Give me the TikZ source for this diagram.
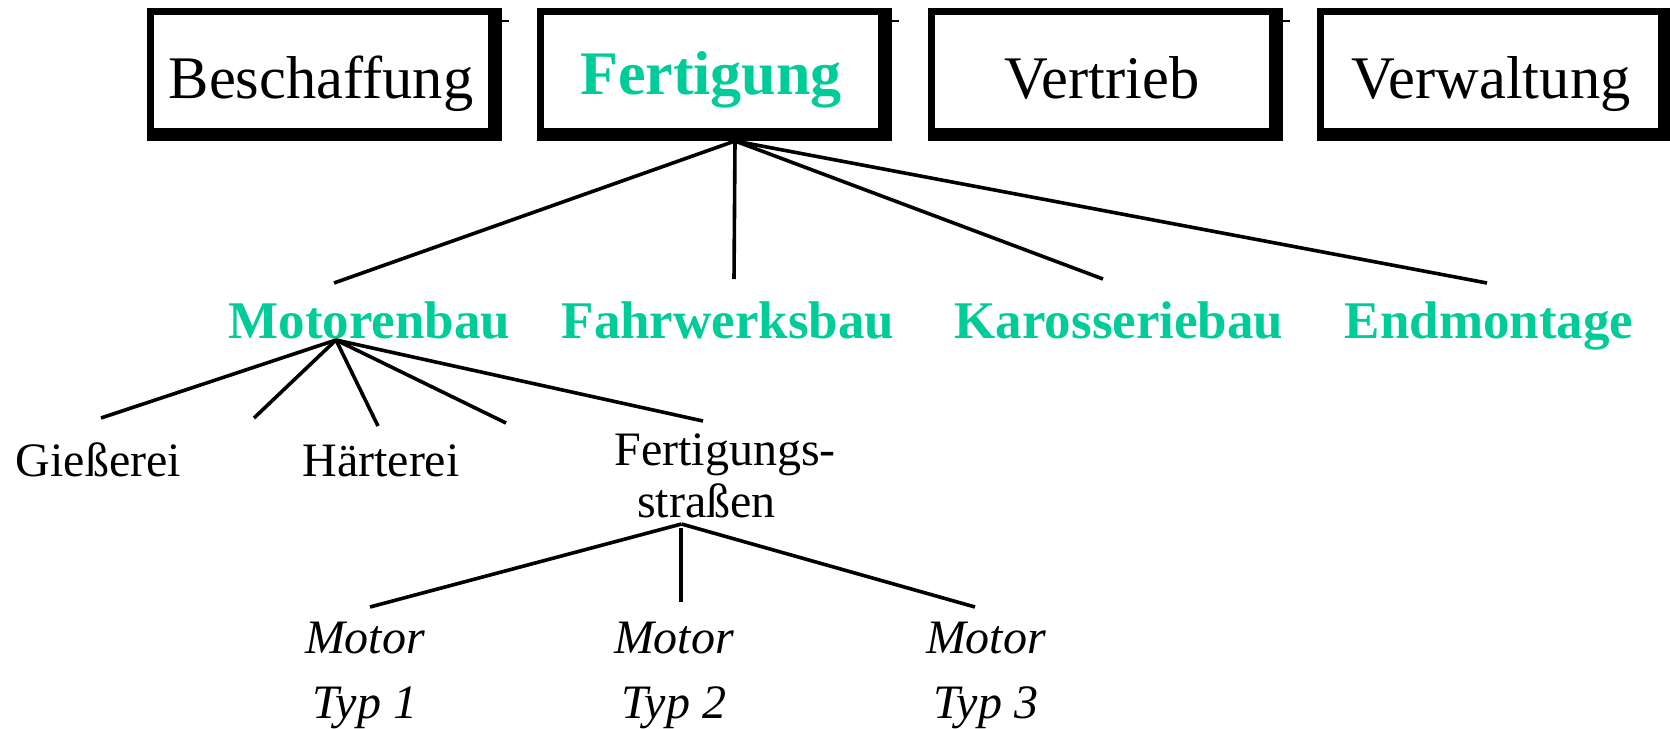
\documentclass[tikz,border=0pt]{standalone}
\usepackage{fontspec}
\setmainfont{Liberation Serif}
\usetikzlibrary{backgrounds}
\definecolor{grn}{HTML}{00CC99}
\begin{document}
\begin{tikzpicture}[x=1pt,y=-1pt,
  topbox/.style={fill=white, inner sep=0pt, minimum width=334pt, text height=83pt, text depth=30pt, anchor=base, font=\fontsize{60.5}{72}\selectfont},
  midlabel/.style={inner sep=0pt, anchor=base, text=grn, font=\fontsize{53}{60}\selectfont\bfseries},
  lowlabel/.style={inner sep=0pt, anchor=base, align=center, font=\fontsize{48}{52}\selectfont},
  typlabel/.style={inner sep=0pt, anchor=base, align=center, font=\fontsize{48}{65}\selectfont\itshape},
  conn/.style={line width=3.6pt},
  tickmark/.style={line width=1.5pt}]
\useasboundingbox (0,0) rectangle (1670,728);

% top row
\node[topbox] (b1) at (321,98) {Beschaffung};
\node[topbox, text=grn, text height=79pt, text depth=34pt, font=\fontsize{62}{72}\selectfont\bfseries] (b2) at (711,94) {Fertigung\hspace{16pt}};
\node[topbox] (b3) at (1102,98) {Vertrieb};
\node[topbox] (b4) at (1491,98) {Verwaltung};

\begin{scope}[on background layer]
  \fill[white] (0,0) rectangle (1670,728);
  \foreach \b in {b1,b2,b3,b4}
    \fill ([shift={(-7,-7)}]\b.north west) rectangle ([shift={(14,13)}]\b.south east);
\end{scope}
\foreach \b in {b1,b2,b3}
  \draw[tickmark] ([shift={(14,6)}]\b.north east) -- ([shift={(21,6)}]\b.north east);

% second level
\node[midlabel] (m1) at (369.5,338) {Motorenbau};
\node[midlabel] (m2) at (728,338) {Fahrwerksbau};
\node[midlabel] (m3) at (1119,338) {Karosseriebau};
\node[midlabel] (m4) at (1489,338) {Endmontage};

\coordinate (fJ) at (735,141);
\coordinate (e1) at (334,283);
\coordinate (e2) at (734,279);
\coordinate (e3) at (1103,279);
\coordinate (e4) at (1487,283);
\foreach \e in {e1,e2,e3,e4}
  \draw[conn] (fJ) -- (\e);

% third level
\node[lowlabel] (g) at (98.5,476) {Gießerei};
\node[lowlabel] (h) at (381,476) {Härterei};
\node[lowlabel] (fs) at (725,517) {Fertigungs-\\straßen\rule{37pt}{0pt}};

\coordinate (mJ) at (336,340);
\coordinate (k1) at (101,418);
\coordinate (k2) at (254,418);
\coordinate (k3) at (378,426);
\coordinate (k4) at (506,423);
\coordinate (k5) at (703,421);
\foreach \k in {k1,k2,k3,k4,k5}
  \draw[conn] (mJ) -- (\k);

% fourth level
\node[typlabel] (t1) at (365,718) {Motor\\Typ 1};
\node[typlabel] (t2) at (674,718) {Motor\\Typ 2};
\node[typlabel] (t3) at (986,718) {Motor\\Typ 3};

\coordinate (sJ) at (681.5,524);
\coordinate (s1) at (370,607);
\coordinate (s2a) at (681,528);
\coordinate (s2) at (681,602);
\coordinate (s3) at (975,607);
\draw[conn] (sJ) -- (s1);
\draw[conn] (s2a) -- (s2);
\draw[conn] (sJ) -- (s3);
\end{tikzpicture}
\end{document}
